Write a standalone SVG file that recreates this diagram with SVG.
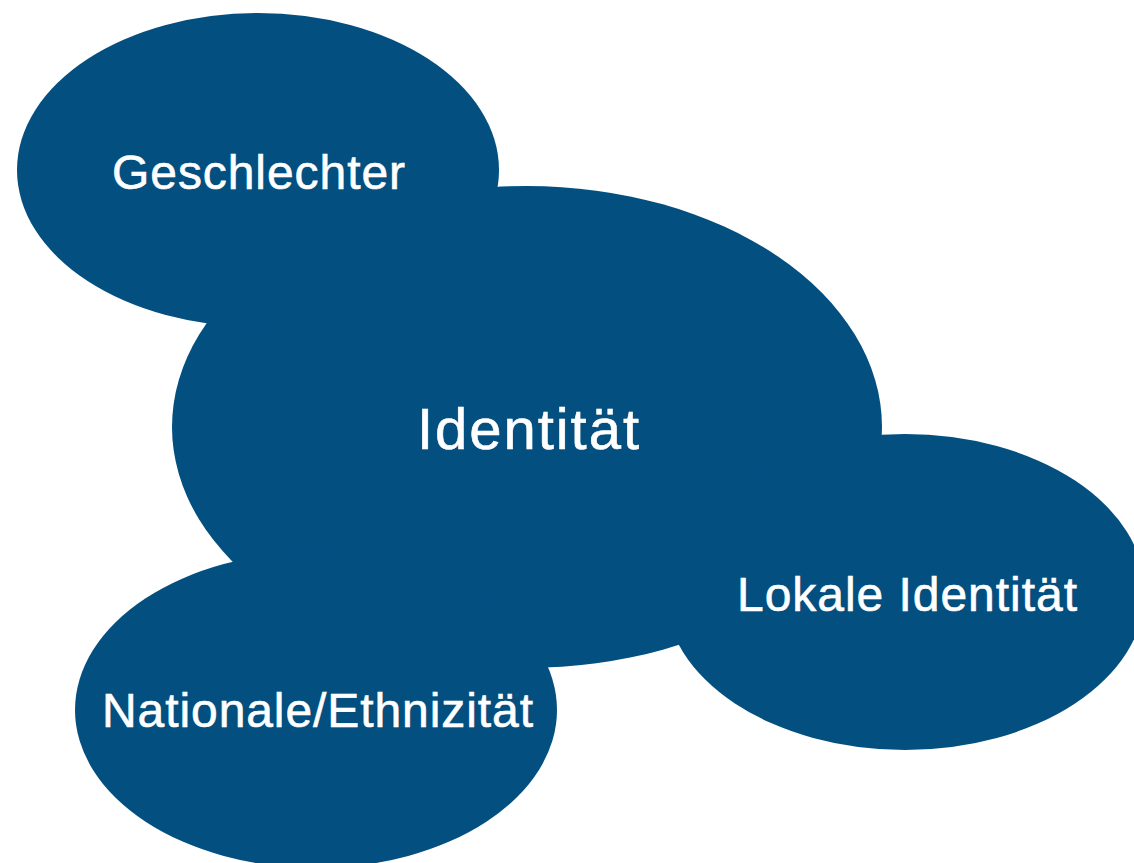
<svg xmlns="http://www.w3.org/2000/svg" width="1134" height="863" viewBox="0 0 1134 863">
<style>
.blob{fill:#024F80;}
.lbl{fill:#FFFFFF;stroke:#FFFFFF;stroke-width:0.6;font-family:"Liberation Sans",Arial,sans-serif;text-anchor:middle;}
.small{font-size:48px;}
.big{font-size:58px;}
</style>
<rect x="0" y="0" width="1134" height="863" fill="#FFFFFF"/>
<g id="connectors"></g>
<g id="node-identitaet">
<ellipse class="blob" cx="527" cy="427" rx="355" ry="241"/>
<text class="lbl big" x="528" y="449" textLength="222" lengthAdjust="spacing">Identität</text>
</g>
<g id="node-geschlechter">
<ellipse class="blob" cx="258" cy="170" rx="241" ry="157"/>
<text class="lbl small" x="258.5" y="189" textLength="293" lengthAdjust="spacing">Geschlechter</text>
</g>
<g id="node-national">
<ellipse class="blob" cx="316" cy="710" rx="241" ry="158"/>
<text class="lbl small" x="317.5" y="727" textLength="431" lengthAdjust="spacing">Nationale/Ethnizität</text>
</g>
<g id="node-lokal">
<ellipse class="blob" cx="905" cy="592" rx="240" ry="158"/>
<text class="lbl small" x="907" y="611" textLength="340" lengthAdjust="spacing">Lokale Identität</text>
</g>
</svg>
